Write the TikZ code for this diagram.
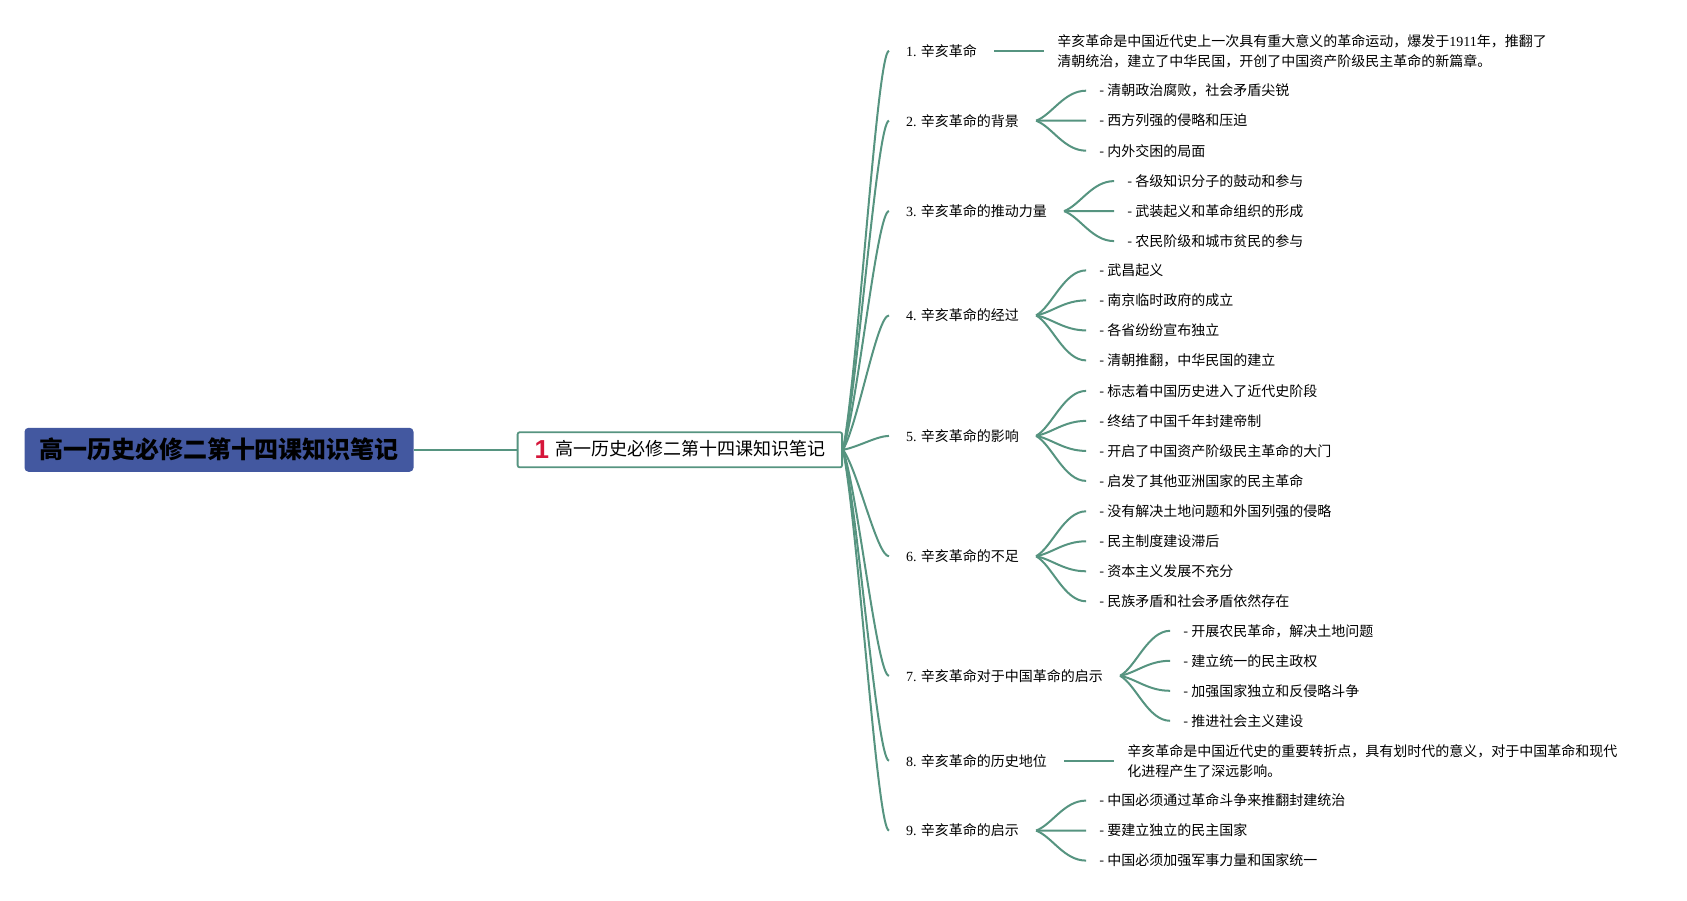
\documentclass[tikz,border=0pt]{standalone}
\usepackage{fontspec}
\setmainfont{Noto Sans CJK SC}
\newfontfamily\lat{Liberation Serif}
\newfontfamily\iconfont{Liberation Sans}
\usetikzlibrary{positioning,calc}
\definecolor{rootcolor}{RGB}{67, 88, 160}
\definecolor{linkcolor}{RGB}{86, 148, 128}
\definecolor{markcolor}{RGB}{214, 22, 58}

\begin{document}
\begin{tikzpicture}[x=1pt, y=1pt,
    rootbox/.style={rectangle, fill=rootcolor, rounded corners=4pt, minimum width=389pt, minimum height=44pt, font=\fontsize{24}{24}\selectfont\bfseries},
    titlebox/.style={rectangle, draw=linkcolor, line width=1.8pt, rounded corners=2pt, fill=white, minimum height=35pt, inner xsep=17pt, font=\fontsize{18}{18}\selectfont},
    topic/.style={anchor=west, inner xsep=17pt, font=\fontsize{14}{20}\selectfont},
    leaf/.style={inner xsep=13pt, font=\fontsize{14}{20}\selectfont},
    note/.style={inner xsep=13pt, align=left, font=\fontsize{14}{20}\selectfont},
    link/.style={draw=linkcolor, line width=2pt},
    curve/.style={link, to path={.. controls ($(\tikztostart)!0.2!(\tikztotarget)+(6,0)$) and ($(\tikztotarget)+(-#1,0)$) .. (\tikztotarget)}}
]
    \useasboundingbox (0,0) rectangle (1687,900);

    % Root and title
    \node[rootbox] (root) at (219,450.2) {高一历史必修二第十四课知识笔记};
    \node[titlebox, anchor=east] (title) at (843,450.2) {\raisebox{-3pt}{\iconfont\bfseries\fontsize{26}{26}\selectfont\color{markcolor}1}\hspace{6pt}高一历史必修二第十四课知识笔记};
    \coordinate (hub) at (title.east);

    % Topics
    \node[topic] (b1) at (889,849.2) {{\lat 1.} 辛亥革命};
    \node[topic] (b2) at (889,779.3) {{\lat 2.} 辛亥革命的背景};
    \node[topic] (b3) at (889,688.9) {{\lat 3.} 辛亥革命的推动力量};
    \node[topic] (b4) at (889,584.6) {{\lat 4.} 辛亥革命的经过};
    \node[topic] (b5) at (889,464.1) {{\lat 5.} 辛亥革命的影响};
    \node[topic] (b6) at (889,343.7) {{\lat 6.} 辛亥革命的不足};
    \node[topic] (b7) at (889,224.2) {{\lat 7.} 辛亥革命对于中国革命的启示};
    \node[topic] (b8) at (889,139.3) {{\lat 8.} 辛亥革命的历史地位};
    \node[topic] (b9) at (889,69.4) {{\lat 9.} 辛亥革命的启示};

    % Notes
    \node[note, right=50pt of b1] (b1d) {辛亥革命是中国近代史上一次具有重大意义的革命运动，爆发于{\lat 1911}年，推翻了\\清朝统治，建立了中华民国，开创了中国资产阶级民主革命的新篇章。};
    \node[note, right=50pt of b8] (b8d) {辛亥革命是中国近代史的重要转折点，具有划时代的意义，对于中国革命和现代\\化进程产生了深远影响。};

    % Leaves of 2
    \node[leaf, right=50pt of b2, yshift=30pt] (b2a) {- 清朝政治腐败，社会矛盾尖锐};
    \node[leaf, right=50pt of b2] (b2b) {- 西方列强的侵略和压迫};
    \node[leaf, right=50pt of b2, yshift=-30pt] (b2c) {- 内外交困的局面};

    % Leaves of 3
    \node[leaf, right=50pt of b3, yshift=30pt] (b3a) {- 各级知识分子的鼓动和参与};
    \node[leaf, right=50pt of b3] (b3b) {- 武装起义和革命组织的形成};
    \node[leaf, right=50pt of b3, yshift=-30pt] (b3c) {- 农民阶级和城市贫民的参与};

    % Leaves of 4
    \node[leaf, right=50pt of b4, yshift=45pt] (b4a) {- 武昌起义};
    \node[leaf, right=50pt of b4, yshift=15pt] (b4b) {- 南京临时政府的成立};
    \node[leaf, right=50pt of b4, yshift=-15pt] (b4c) {- 各省纷纷宣布独立};
    \node[leaf, right=50pt of b4, yshift=-45pt] (b4d) {- 清朝推翻，中华民国的建立};

    % Leaves of 5
    \node[leaf, right=50pt of b5, yshift=45pt] (b5a) {- 标志着中国历史进入了近代史阶段};
    \node[leaf, right=50pt of b5, yshift=15pt] (b5b) {- 终结了中国千年封建帝制};
    \node[leaf, right=50pt of b5, yshift=-15pt] (b5c) {- 开启了中国资产阶级民主革命的大门};
    \node[leaf, right=50pt of b5, yshift=-45pt] (b5d) {- 启发了其他亚洲国家的民主革命};

    % Leaves of 6
    \node[leaf, right=50pt of b6, yshift=45pt] (b6a) {- 没有解决土地问题和外国列强的侵略};
    \node[leaf, right=50pt of b6, yshift=15pt] (b6b) {- 民主制度建设滞后};
    \node[leaf, right=50pt of b6, yshift=-15pt] (b6c) {- 资本主义发展不充分};
    \node[leaf, right=50pt of b6, yshift=-45pt] (b6d) {- 民族矛盾和社会矛盾依然存在};

    % Leaves of 7
    \node[leaf, right=50pt of b7, yshift=45pt] (b7a) {- 开展农民革命，解决土地问题};
    \node[leaf, right=50pt of b7, yshift=15pt] (b7b) {- 建立统一的民主政权};
    \node[leaf, right=50pt of b7, yshift=-15pt] (b7c) {- 加强国家独立和反侵略斗争};
    \node[leaf, right=50pt of b7, yshift=-45pt] (b7d) {- 推进社会主义建设};

    % Leaves of 9
    \node[leaf, right=50pt of b9, yshift=30pt] (b9a) {- 中国必须通过革命斗争来推翻封建统治};
    \node[leaf, right=50pt of b9] (b9b) {- 要建立独立的民主国家};
    \node[leaf, right=50pt of b9, yshift=-30pt] (b9c) {- 中国必须加强军事力量和国家统一};

    % Connectors
    \draw[link] (root.east) -- (title.west);
    \foreach \n in {1,...,9}
        \draw[curve=12] (hub) to (b\n.west);
    \draw[link] (b1.east) -- (b1d.west);
    \draw[link] (b8.east) -- (b8d.west);
    \foreach \s in {a,b,c} {
        \draw[curve=22] (b2.east) to (b2\s.west);
        \draw[curve=22] (b3.east) to (b3\s.west);
        \draw[curve=22] (b9.east) to (b9\s.west);
    }
    \foreach \s in {a,b,c,d} {
        \draw[curve=22] (b4.east) to (b4\s.west);
        \draw[curve=22] (b5.east) to (b5\s.west);
        \draw[curve=22] (b6.east) to (b6\s.west);
        \draw[curve=22] (b7.east) to (b7\s.west);
    }
\end{tikzpicture}
\end{document}
